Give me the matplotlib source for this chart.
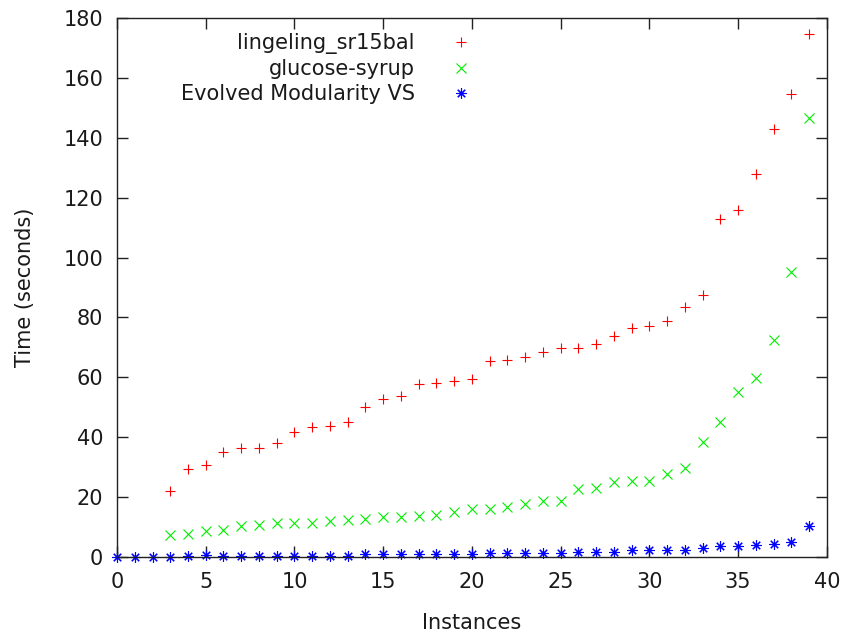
import matplotlib
matplotlib.use("Agg")
import matplotlib.pyplot as plt
import numpy as np

# Data
lingeling_x = list(range(3, 40))
lingeling_y = [22.1, 29.2, 30.7, 35.0, 36.5, 36.5, 38.1, 41.8, 43.3, 43.7, 45.0,
               49.9, 52.6, 53.6, 57.6, 58.1, 58.6, 59.4, 65.3, 65.8, 66.7, 68.5,
               69.8, 69.8, 71.2, 73.9, 76.6, 77.1, 78.8, 83.4, 87.5, 112.8, 115.8,
               128.1, 143.0, 154.6, 174.6]

glucose_x = list(range(3, 40))
glucose_y = [7.1, 7.5, 8.7, 9.0, 10.4, 10.7, 11.3, 11.3, 11.3, 11.8, 12.2, 12.7,
             13.2, 13.2, 13.6, 13.9, 14.9, 15.8, 15.8, 16.6, 17.5, 18.5, 18.5,
             22.6, 23.0, 24.9, 25.2, 25.2, 27.5, 29.8, 38.2, 45.0, 55.1, 59.8,
             72.6, 95.3, 146.7]

evolved_x = list(range(0, 40))
evolved_y = [0.0, 0.0, 0.0, 0.0, 0.3, 0.5, 0.3, 0.3, 0.3, 0.3, 0.3, 0.1, 0.1, 0.1,
             0.8, 0.9, 0.9, 0.8, 0.8, 0.8, 1.0, 1.3, 1.3, 1.3, 1.3, 1.3, 1.7, 1.7,
             1.7, 2.2, 2.2, 2.2, 2.2, 2.8, 3.5, 3.5, 4.0, 4.4, 4.9, 10.3]

labels = ["lingeling_sr15bal", "glucose-syrup", "Evolved Modularity VS"]
x_ticks = [0, 5, 10, 15, 20, 25, 30, 35, 40]
y_ticks = [0, 20, 40, 60, 80, 100, 120, 140, 160, 180]

plt.rcParams['font.family'] = ['DejaVu Sans']
FS = 15
TXT = '#1a1a1a'

fig = plt.figure(figsize=(8.48, 6.36), dpi=100)
ax = fig.add_axes([0.138, 0.1247, 0.837, 0.8465])

ms = 7.5
mew = 0.8
ax.plot(lingeling_x, lingeling_y, linestyle='none', marker='+', color='#ff0000',
        markersize=ms, markeredgewidth=mew, clip_on=False, label=labels[0])
ax.plot(glucose_x, glucose_y, linestyle='none', marker='x', color='#00ee00',
        markersize=ms * 0.95, markeredgewidth=mew, clip_on=False, label=labels[1])
ax.plot(evolved_x, evolved_y, linestyle='none', marker=(8, 2, 0), color='#0000ff',
        markersize=ms, markeredgewidth=mew, clip_on=False, label=labels[2])

ax.set_xlim(0, 40)
ax.set_ylim(0, 180)
ax.set_xticks(x_ticks)
ax.set_yticks(y_ticks)

for s in ax.spines.values():
    s.set_color('#222222')
    s.set_linewidth(1.0)

ax.tick_params(axis='both', which='both', direction='in', length=8, width=1.0,
               colors='#222222', labelcolor=TXT, labelsize=FS,
               top=True, right=True)
ax.tick_params(axis='x', pad=11)
ax.tick_params(axis='y', pad=10)

ax.set_xlabel("Instances", fontsize=FS, color=TXT, labelpad=15)
ax.set_ylabel("Time (seconds)", fontsize=FS, color=TXT, labelpad=20)

leg = ax.legend(loc='upper right', bbox_to_anchor=(0.5, 0.972),
                frameon=False, markerfirst=False, fontsize=FS,
                handlelength=1.0, handletextpad=1.75, labelspacing=0.23,
                borderpad=0, borderaxespad=0)
for t in leg.get_texts():
    t.set_color(TXT)

fig.savefig("out.png", dpi=100)
